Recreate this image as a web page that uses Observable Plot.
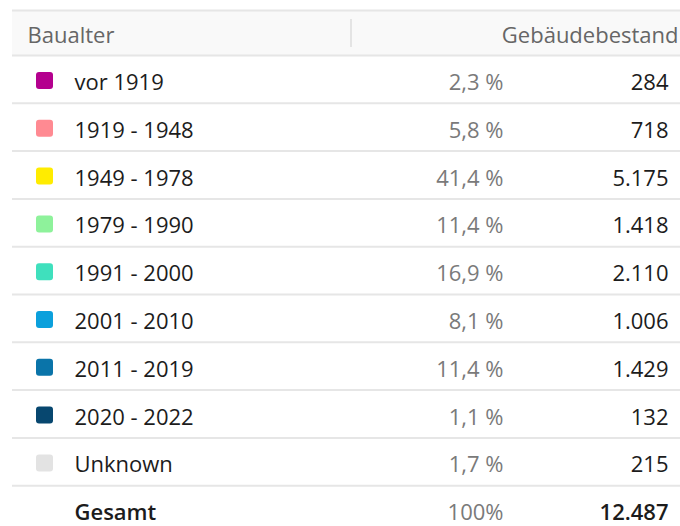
<!DOCTYPE html>
<html>
<head>
<meta charset="utf-8">
<script src="https://cdn.jsdelivr.net/npm/d3@7"></script>
<script src="https://cdn.jsdelivr.net/npm/@observablehq/plot@0.6"></script>
<style>
  body { margin: 0; background: #fff; }
  #chart svg { font-family: "Open Sans", sans-serif; background: #fff; }
</style>
</head>
<body>
<div id="chart"></div>
<script>
// ---- data ----
const headerLabels = ["Baualter", "Gebäudebestand"];
const categories = ["vor 1919", "1919 - 1948", "1949 - 1978", "1979 - 1990", "1991 - 2000", "2001 - 2010", "2011 - 2019", "2020 - 2022", "Unknown"];
const percents = [2.3, 5.8, 41.4, 11.4, 16.9, 8.1, 11.4, 1.1, 1.7];
const counts = [284, 718, 5175, 1418, 2110, 1006, 1429, 132, 215];
const colors = ["#b4008e", "#ff8a92", "#ffec00", "#8ef29b", "#3fe0bd", "#0ba0dc", "#0a74a9", "#07476f", "#e3e3e3"];
const totalLabel = "Gesamt";
const totalPercent = 100;
const totalCount = 12487;

// ---- formatting ----
const de = d3.formatLocale({decimal: ",", thousands: ".", grouping: [3], currency: ["", " €"]});
const fmtPct = (v) => de.format(".1f")(v) + " %";
const fmtCount = de.format(",d");

const HEADER = "__header";
const rows = categories.map((c, i) => ({label: c, pct: fmtPct(percents[i]), count: fmtCount(counts[i])}));
const total = {label: totalLabel, pct: de.format("d")(totalPercent) + "%", count: fmtCount(totalCount)};
const yDomain = [HEADER, ...categories, totalLabel];

const bw = 47.8;
const y0 = 55 - bw;
const grid = "#e6e6e6";

const chart = Plot.plot({
  width: 680,
  height: 526,
  marginLeft: 12,
  marginRight: 0,
  marginTop: 0,
  marginBottom: 0,
  style: {fontFamily: "Open Sans, sans-serif", background: "#fff"},
  y: {type: "band", domain: yDomain, range: [y0, y0 + bw * yDomain.length], padding: 0, round: false, axis: null},
  color: {domain: categories, range: colors},
  marks: [
    // header background
    Plot.cell([HEADER], {y: (d) => d, fill: "#f9f9f9", insetTop: 2.8}),
    // header column separator
    Plot.cell([HEADER], {y: (d) => d, fill: "#e4e4e4", insetLeft: 338, insetRight: 328, insetTop: 11.8, insetBottom: 8}),
    // top border
    Plot.ruleY([HEADER], {y: (d) => d, dy: -bw / 2 + 2.8, stroke: grid, strokeWidth: 2}),
    // row borders
    Plot.ruleY([HEADER, ...categories], {y: (d) => d, dy: bw / 2, stroke: grid, strokeWidth: 2}),
    // swatches
    Plot.cell(rows, {y: "label", fill: "label", insetLeft: 24, insetRight: 627, insetTop: 17, insetBottom: bw - 34, rx: 3}),
    // header texts
    Plot.text([headerLabels[0]], {y: () => HEADER, text: (d) => d, frameAnchor: "left", textAnchor: "start", dx: 15, dy: 4, fill: "#666", fontSize: 22}),
    Plot.text([headerLabels[1]], {y: () => HEADER, text: (d) => d, frameAnchor: "right", textAnchor: "end", dx: -2, dy: 4, fill: "#666", fontSize: 22}),
    // row labels
    Plot.text(rows, {y: "label", text: "label", frameAnchor: "left", textAnchor: "start", dx: 62, dy: 3.5, fill: "#1c1c1c", fontSize: 22}),
    Plot.text(rows, {y: "label", text: "pct", frameAnchor: "right", textAnchor: "end", dx: -177, dy: 3.5, fill: "#7a7a7a", fontSize: 22}),
    Plot.text(rows, {y: "label", text: "count", frameAnchor: "right", textAnchor: "end", dx: -12, dy: 3.5, fill: "#1c1c1c", fontSize: 22}),
    // total row
    Plot.text([total], {y: "label", text: "label", frameAnchor: "left", textAnchor: "start", dx: 62, dy: 3.5, fill: "#1c1c1c", fontSize: 22, fontWeight: 600}),
    Plot.text([total], {y: "label", text: "pct", frameAnchor: "right", textAnchor: "end", dx: -177, dy: 3.5, fill: "#7a7a7a", fontSize: 22}),
    Plot.text([total], {y: "label", text: "count", frameAnchor: "right", textAnchor: "end", dx: -12, dy: 3.5, fill: "#1c1c1c", fontSize: 22, fontWeight: 600})
  ]
});
document.getElementById("chart").appendChild(chart);
</script>
</body>
</html>
